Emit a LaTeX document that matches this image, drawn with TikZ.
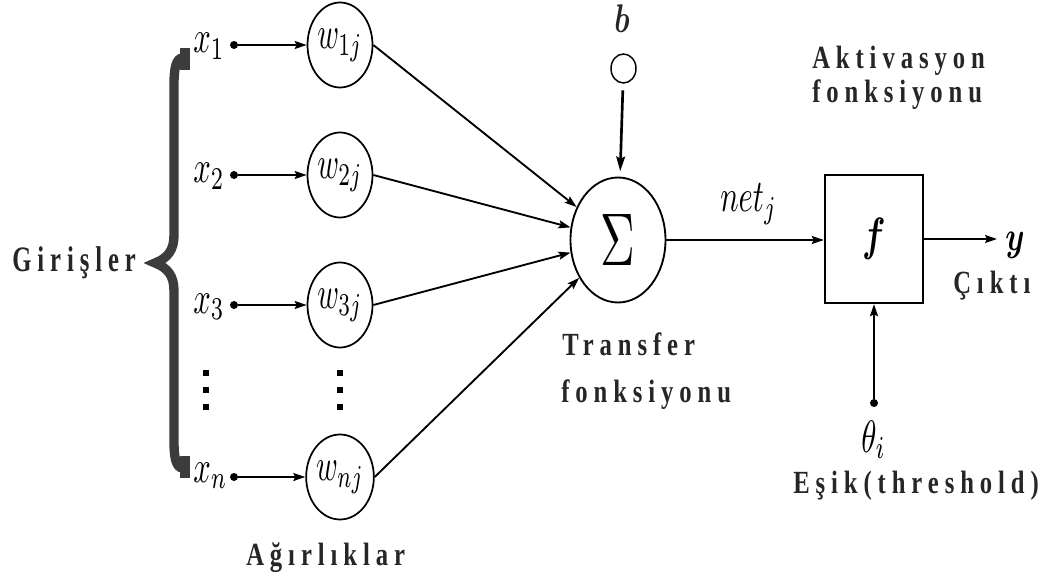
\documentclass[tikz,border=0pt]{standalone}
\usepackage{fontspec}
\setmainfont{Liberation Serif}
\newfontfamily\spfont[LetterSpace=24]{Liberation Serif}
\usepackage{graphicx}
\usepackage{bm}
\usetikzlibrary{arrows.meta,shapes.geometric}
\definecolor{txt}{HTML}{262626}
\definecolor{brc}{HTML}{3C3C3C}
\newcommand{\vs}[1]{\scalebox{1}[1.31]{#1}}
\newcommand{\mth}[1]{\scalebox{2.3}[3.4]{$#1$}}
\begin{document}
\begin{tikzpicture}[x=0.75pt,y=-0.75pt,
  lbl/.style={font=\spfont\bfseries\fontsize{18.5}{20}\selectfont, text=txt, inner sep=0pt},
  mlab/.style={font=\fontsize{10}{12}\selectfont, inner sep=0pt},
  wnode/.style={draw, ellipse, line width=1.3pt, minimum width=48.75pt, minimum height=63.75pt, inner sep=0pt, font=\fontsize{10}{12}\selectfont},
  dotnode/.style={circle, fill, inner sep=0pt, minimum size=6pt},
  arr/.style={line width=1.4pt, -{Stealth[length=9pt,width=6pt,inset=1.5pt]}},
  vdot/.style={rectangle, fill, minimum size=4pt, inner sep=0pt}
]
\useasboundingbox (0,0) rectangle (1046,581);

% brace
\draw[brc, line width=7pt, line join=miter] (187,58) -- (183,58) .. controls (176,58) and (174,68) .. (174,85) -- (174,235) .. controls (174,250) and (168,258) .. (155,263) .. controls (168,268) and (174,276) .. (174,291) -- (174,441) .. controls (174,458) and (176,468) .. (183,468) -- (187,468);
\fill[brc] (180,48) rectangle (190,70);
\fill[brc] (180,456) rectangle (190,478);

% labels left
\node[lbl, anchor=base west] (gir) at (12,271) {\scalebox{1}[1.45]{Girişler}};
\node[lbl, anchor=base west] (agr) at (246,565) {\vs{Ağırlıklar}};

% inputs
\node[mlab, anchor=base west] (x1) at (193,53) {\mth{x_1}};
\node[mlab, anchor=base west] (x2) at (193,183) {\mth{x_2}};
\node[mlab, anchor=base west] (x3) at (193,313) {\mth{x_3}};
\node[mlab, anchor=base west] (xn) at (193,482) {\mth{x_n}};

\node[dotnode] (d1) at (234,45) {};
\node[dotnode] (d2) at (234,175) {};
\node[dotnode] (d3) at (234,305) {};
\node[dotnode] (dn) at (234,477) {};

\node[wnode] (w1) at (340,45) {\scalebox{2.2}[3.4]{$w_{1j}$}};
\node[wnode] (w2) at (340,175) {\scalebox{2.2}[3.4]{$w_{2j}$}};
\node[wnode] (w3) at (340,305) {\scalebox{2.2}[3.4]{$w_{3j}$}};
\node[wnode] (wn) at (340,477) {\scalebox{2.2}[3.4]{$w_{nj}$}};

\draw[arr] (d1) -- (w1);
\draw[arr] (d2) -- (w2);
\draw[arr] (d3) -- (w3);
\draw[arr] (dn) -- (wn);

% vertical dots
\node[vdot] (va1) at (206,373) {};
\node[vdot] (va2) at (206,390) {};
\node[vdot] (va3) at (206,407) {};
\node[vdot] (vb1) at (340,373) {};
\node[vdot] (vb2) at (340,390) {};
\node[vdot] (vb3) at (340,407) {};

% summation
\node[draw, ellipse, line width=1.4pt, minimum width=71.25pt, minimum height=93.75pt, inner sep=0pt, font=\fontsize{10}{12}\selectfont] (sum) at (618,240) {\scalebox{3.6}[5.6]{$\Sigma$}};
\draw[arr] (w1.east) -- (sum);
\draw[arr] (w2.east) -- (sum);
\draw[arr] (w3.east) -- (sum);
\draw[arr] (wn.east) -- (sum);

% bias
\node[mlab, text=txt, anchor=base] (b) at (622,33) {\scalebox{2.2}[3]{$\bm{b}$}};
\node[draw, ellipse, line width=1.1pt, minimum width=18.75pt, minimum height=21.75pt, inner sep=0pt] (bc) at (623.5,68.5) {};
\draw[line width=2pt, -{Stealth[length=11pt,width=6.5pt,inset=1.5pt]}, shorten <=5pt, shorten >=4pt] (bc) -- (sum);

\node[lbl, anchor=base west] (tr1) at (562,355) {\vs{Transfer}};
\node[lbl, anchor=base west] (tr2) at (561,402) {\vs{fonksiyonu}};

% activation box
\node[draw, rectangle, line width=1.8pt, minimum width=73.5pt, minimum height=96pt, inner sep=0pt, font=\fontsize{10}{12}\selectfont] (box) at (874,239) {\scalebox{2.6}[3.5]{$\bm{f}$}};
\draw[arr] (sum.east) -- (sum.east -| box.west);
\node[mlab, anchor=base west] (net) at (720,212) {\mth{net_j}};

\node[lbl, anchor=base west] (ak1) at (812,69) {\vs{Aktivasyon}};
\node[lbl, anchor=base west] (ak2) at (812,103) {\vs{fonksiyonu}};

\coordinate (yout) at (997,239);
\draw[arr] (box.east) -- (yout);
\node[mlab, anchor=base west] (ylab) at (1005,250) {\scalebox{2.3}[3.1]{$\bm{y}$}};
\node[lbl, anchor=base west] (cik) at (953,293) {\vs{Çıktı}};

% threshold
\node[dotnode] (th) at (874,403) {};
\draw[arr] (th) -- (box.south);
\node[mlab, anchor=base west] (theta) at (861,452) {\mth{\theta_i}};
\node[lbl, anchor=base west] (esik) at (793,493) {\vs{Eşik(threshold)}};
\end{tikzpicture}
\end{document}
